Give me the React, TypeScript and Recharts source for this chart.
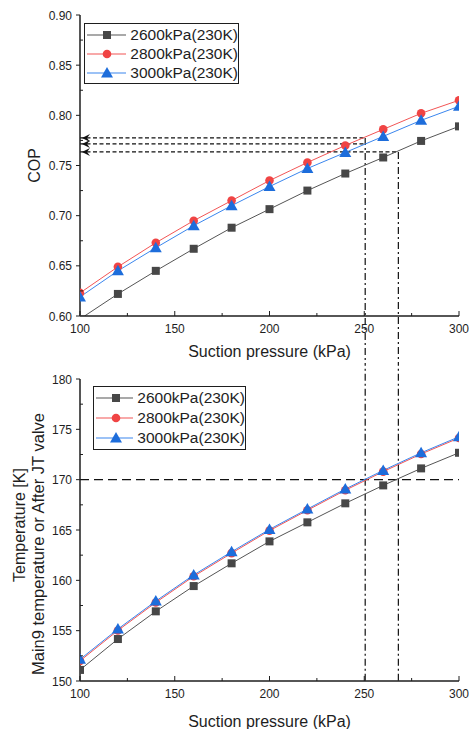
import { Legend, Line, LineChart, ReferenceDot, ReferenceLine, XAxis, YAxis } from "recharts";

const FONT = "'Liberation Sans', Arial, sans-serif";

// suction pressure (kPa)
const pressure = [100, 120, 140, 160, 180, 200, 220, 240, 260, 280, 300];

// COP
const cop2600 = [0.597, 0.622, 0.645, 0.667, 0.688, 0.7065, 0.725, 0.742, 0.758, 0.7745, 0.789];
const cop2800 = [0.623, 0.649, 0.673, 0.695, 0.715, 0.735, 0.753, 0.770, 0.786, 0.802, 0.815];
const cop3000 = [0.619, 0.645, 0.668, 0.690, 0.710, 0.729, 0.747, 0.763, 0.779, 0.795, 0.809];

// main9 temperature / after JT valve (K)
const temp2600 = [151.1, 154.17, 156.92, 159.43, 161.69, 163.87, 165.76, 167.65, 169.43, 171.12, 172.67];
const temp2800 = [152.0, 155.02, 157.8, 160.4, 162.7, 164.94, 166.96, 168.95, 170.8, 172.55, 174.14];
const temp3000 = [152.15, 155.16, 157.94, 160.53, 162.84, 165.06, 167.08, 169.07, 170.92, 172.67, 174.26];

const seriesNames = ["2600kPa(230K)", "2800kPa(230K)", "3000kPa(230K)"];

const pressureTicks = [100, 125, 150, 175, 200, 225, 250, 275, 300];
const copTicks = [0.6, 0.625, 0.65, 0.675, 0.7, 0.725, 0.75, 0.775, 0.8, 0.825, 0.85, 0.875, 0.9];
const tempTicks = [150, 152.5, 155, 157.5, 160, 162.5, 165, 167.5, 170, 172.5, 175, 177.5, 180];

// read-off guide lines
const copLevels = [0.7775, 0.7715, 0.7635];
const copLevelEnds = [250.5, 250.5, 268];
const tempLimit = 170;
const crossPressures = [250.5, 268];

const MARK_COLORS = ["#474747", "#f04444", "#1d6ddb"];
const LINE_COLORS = ["#555555", "#f25555", "#3a86ee"];
const INK = "#1e1e1e";

const copData = pressure.map((p, i) => ({ p, s0: cop2600[i], s1: cop2800[i], s2: cop3000[i] }));
const tempData = pressure.map((p, i) => ({ p, s0: temp2600[i], s1: temp2800[i], s2: temp3000[i] }));

const Marker = ({ kind, cx, cy }: any) => {
  const c = MARK_COLORS[kind];
  if (kind === 0) return <rect x={cx - 4} y={cy - 4} width={8} height={8} fill={c} />;
  if (kind === 1) return <circle cx={cx} cy={cy} r={4.3} fill={c} />;
  return <path d={`M${cx},${cy - 6}L${cx + 6},${cy + 4.5}L${cx - 6},${cy + 4.5}Z`} fill={c} />;
};

const tickFont = { fontFamily: FONT, fontSize: 12, fill: INK };

const isMajorX = (v: number) => v % 50 === 0;

const BottomTick = ({ x, y, payload }: any) => {
  const major = isMajorX(payload.value);
  return (
    <g>
      <line x1={x} x2={x} y1={y} y2={y - (major ? 5 : 3)} stroke={INK} />
      {major && (
        <text x={x} y={y + 16.5} textAnchor="middle" style={tickFont}>
          {payload.value}
        </text>
      )}
    </g>
  );
};

const TopTick = ({ x, y, payload }: any) => {
  const major = isMajorX(payload.value);
  return <line x1={x} x2={x} y1={y} y2={y + (major ? 5 : 3)} stroke={INK} />;
};

const makeLeftTick = (isMajor: (v: number) => boolean, fmt: (v: number) => string) => ({ x, y, payload }: any) => {
  const major = isMajor(payload.value);
  return (
    <g>
      {major ? (
        <line x1={x - 4} x2={x} y1={y} y2={y} stroke={INK} />
      ) : (
        <line x1={x} x2={x + 3} y1={y} y2={y} stroke={INK} />
      )}
      {major && (
        <text x={x - 8} y={y + 4.5} textAnchor="end" style={tickFont}>
          {fmt(payload.value)}
        </text>
      )}
    </g>
  );
};

const makeRightTick = (isMajor: (v: number) => boolean) => ({ x, y, payload }: any) => {
  const major = isMajor(payload.value);
  return <line x1={x} x2={x - (major ? 5 : 3)} y1={y} y2={y} stroke={INK} />;
};

const copMajor = (v: number) => Math.abs(v * 20 - Math.round(v * 20)) < 1e-6;
const tempMajor = (v: number) => v % 5 === 0;

const xTitle = (dy: number) => ({ viewBox }: any) => (
  <text
    x={viewBox.x + viewBox.width / 2}
    y={viewBox.y + dy}
    textAnchor="middle"
    style={{ fontFamily: FONT, fontSize: 16, fill: INK }}
  >
    Suction pressure (kPa)
  </text>
);

const yTitle = (lines: { text: string; x: number; dy: number; size: number }[]) => ({ viewBox }: any) => {
  const cy = viewBox.y + viewBox.height / 2;
  return (
    <g>
      {lines.map((l, i) => (
        <text
          key={i}
          x={l.x}
          y={cy + l.dy}
          transform={`rotate(-90 ${l.x} ${cy + l.dy})`}
          textAnchor="middle"
          dominantBaseline="central"
          style={{ fontFamily: FONT, fontSize: l.size, fill: INK }}
        >
          {l.text}
        </text>
      ))}
    </g>
  );
};

const LegendBox = ({ rowH, width }: { rowH: number; width: number }) => (
  <div
    style={{
      border: `1.5px solid ${INK}`,
      background: "#fff",
      width,
      padding: "1px 0",
      fontFamily: FONT,
      fontSize: 15.5,
      color: INK,
    }}
  >
    {seriesNames.map((name, i) => (
      <div key={name} style={{ display: "flex", alignItems: "center", height: rowH }}>
        <svg width={40} height={14} style={{ marginLeft: 2 }}>
          <line x1={0} x2={40} y1={7} y2={7} stroke={LINE_COLORS[i]} strokeWidth={1.2} />
          <Marker kind={i} cx={20} cy={7} />
        </svg>
        <span style={{ marginLeft: 4, whiteSpace: "nowrap" }}>{name}</span>
      </div>
    ))}
  </div>
);

const axisLine = { stroke: INK, strokeWidth: 1.5 };

const renderSeries = () =>
  [0, 1, 2].map((i) => (
    <Line
      key={i}
      dataKey={`s${i}`}
      stroke={LINE_COLORS[i]}
      strokeWidth={1}
      dot={(p: any) => <Marker key={p.index} kind={i} cx={p.cx} cy={p.cy} />}
      activeDot={false}
      isAnimationActive={false}
    />
  ));

const arrowHead = ({ cx, cy }: any) => (
  <path d={`M${cx + 2},${cy}L${cx + 10},${cy - 4}L${cx + 7},${cy}L${cx + 10},${cy + 4}Z`} fill="#111" />
);

export default function App() {
  return (
    <div style={{ position: "absolute", left: 0, top: 0, width: 469, height: 729, background: "#fff" }}>
      <div style={{ position: "absolute", left: 0, top: 0 }}>
        <LineChart width={469} height={365} data={copData} margin={{ top: 15, right: 10, bottom: 0, left: 0 }}>
          <XAxis
            dataKey="p"
            type="number"
            domain={[100, 300]}
            ticks={pressureTicks}
            interval={0}
            allowDataOverflow
            tickLine={false}
            tickSize={0}
            tickMargin={0}
            axisLine={axisLine}
            height={49}
            tick={BottomTick}
            label={xTitle(41)}
          />
          <XAxis
            xAxisId="top"
            orientation="top"
            type="number"
            domain={[100, 300]}
            ticks={pressureTicks}
            interval={0}
            allowDataOverflow
            tickLine={false}
            tickSize={0}
            tickMargin={0}
            axisLine={axisLine}
            height={0}
            tick={TopTick}
          />
          <YAxis
            type="number"
            domain={[0.6, 0.9]}
            ticks={copTicks}
            interval={0}
            allowDataOverflow
            tickLine={false}
            tickSize={0}
            tickMargin={0}
            axisLine={axisLine}
            width={80}
            tick={makeLeftTick(copMajor, (v) => v.toFixed(2))}
            label={yTitle([{ text: "COP", x: 34, dy: 0, size: 16 }])}
          />
          <YAxis
            yAxisId="right"
            orientation="right"
            type="number"
            domain={[0.6, 0.9]}
            ticks={copTicks}
            interval={0}
            allowDataOverflow
            tickLine={false}
            tickSize={0}
            tickMargin={0}
            axisLine={axisLine}
            width={0}
            tick={makeRightTick(copMajor)}
          />
          {copLevels.map((v, i) => (
            <ReferenceLine
              key={`h${i}`}
              segment={[
                { x: 100, y: v },
                { x: copLevelEnds[i], y: v },
              ]}
              stroke="#111"
              strokeWidth={1.2}
              strokeDasharray="4 2.5"
              ifOverflow="visible"
            />
          ))}
          {crossPressures.map((p, i) => (
            <ReferenceLine
              key={`v${i}`}
              segment={[
                { x: p, y: i === 0 ? copLevels[0] : copLevels[2] },
                { x: p, y: 0.54 },
              ]}
              stroke="#111"
              strokeWidth={1.2}
              strokeDasharray="7 3 2 3"
              ifOverflow="visible"
            />
          ))}
          {copLevels.map((v, i) => (
            <ReferenceDot key={`a${i}`} x={100} y={v} ifOverflow="visible" shape={arrowHead} />
          ))}
          {renderSeries()}
          <Legend
            layout="vertical"
            align="center"
            verticalAlign="middle"
            wrapperStyle={{ left: 84, top: 23, width: "auto", height: "auto" }}
            content={() => <LegendBox rowH={19} width={153} />}
          />
        </LineChart>
      </div>
      <div style={{ position: "absolute", left: 0, top: 365 }}>
        <LineChart width={469} height={364} data={tempData} margin={{ top: 14, right: 10, bottom: 0, left: 0 }}>
          <XAxis
            dataKey="p"
            type="number"
            domain={[100, 300]}
            ticks={pressureTicks}
            interval={0}
            allowDataOverflow
            tickLine={false}
            tickSize={0}
            tickMargin={0}
            axisLine={axisLine}
            height={48}
            tick={BottomTick}
            label={xTitle(46)}
          />
          <XAxis
            xAxisId="top"
            orientation="top"
            type="number"
            domain={[100, 300]}
            ticks={pressureTicks}
            interval={0}
            allowDataOverflow
            tickLine={false}
            tickSize={0}
            tickMargin={0}
            axisLine={axisLine}
            height={0}
            tick={TopTick}
          />
          <YAxis
            type="number"
            domain={[150, 180]}
            ticks={tempTicks}
            interval={0}
            allowDataOverflow
            tickLine={false}
            tickSize={0}
            tickMargin={0}
            axisLine={axisLine}
            width={80}
            tick={makeLeftTick(tempMajor, (v) => String(v))}
            label={yTitle([
              { text: "Temperature [K]", x: 19, dy: -5, size: 16 },
              { text: "Main9 temperature or After JT valve", x: 38, dy: 14, size: 16.5 },
            ])}
          />
          <YAxis
            yAxisId="right"
            orientation="right"
            type="number"
            domain={[150, 180]}
            ticks={tempTicks}
            interval={0}
            allowDataOverflow
            tickLine={false}
            tickSize={0}
            tickMargin={0}
            axisLine={axisLine}
            width={0}
            tick={makeRightTick(tempMajor)}
          />
          <ReferenceLine y={tempLimit} stroke="#111" strokeWidth={1.2} strokeDasharray="9 5" />
          {crossPressures.map((p, i) => (
            <ReferenceLine
              key={`v${i}`}
              segment={[
                { x: p, y: 182 },
                { x: p, y: 150 },
              ]}
              stroke="#111"
              strokeWidth={1.2}
              strokeDasharray="7 3 2 3"
              ifOverflow="visible"
            />
          ))}
          {renderSeries()}
          <Legend
            layout="vertical"
            align="center"
            verticalAlign="middle"
            wrapperStyle={{ left: 93, top: 21, width: "auto", height: "auto" }}
            content={() => <LegendBox rowH={20} width={151} />}
          />
        </LineChart>
      </div>
    </div>
  );
}
